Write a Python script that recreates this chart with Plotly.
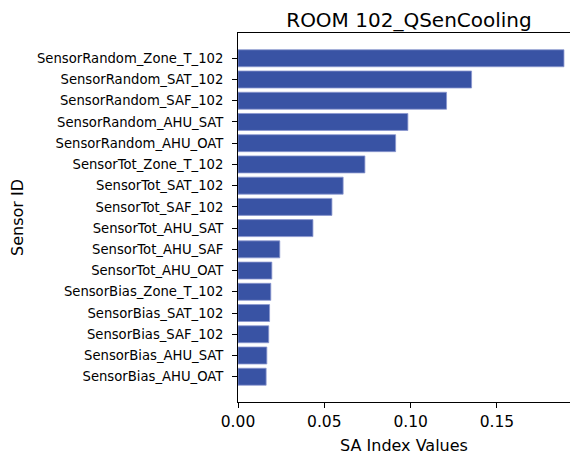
import plotly.graph_objects as go

sensors = [
    "SensorRandom_Zone_T_102", "SensorRandom_SAT_102", "SensorRandom_SAF_102",
    "SensorRandom_AHU_SAT", "SensorRandom_AHU_OAT", "SensorTot_Zone_T_102",
    "SensorTot_SAT_102", "SensorTot_SAF_102", "SensorTot_AHU_SAT",
    "SensorTot_AHU_SAF", "SensorTot_AHU_OAT", "SensorBias_Zone_T_102",
    "SensorBias_SAT_102", "SensorBias_SAF_102", "SensorBias_AHU_SAT",
    "SensorBias_AHU_OAT",
]
sa_values = [
    0.1888, 0.1353, 0.1208, 0.0984, 0.0913, 0.0735, 0.0609, 0.0544,
    0.0434, 0.0242, 0.0196, 0.0190, 0.0183, 0.0178, 0.0167, 0.0163,
]
x_ticks = [0.0, 0.05, 0.10, 0.15]
x_tick_labels = ["0.00", "0.05", "0.10", "0.15"]

FONT = "DejaVu Sans"

fig = go.Figure(
    go.Bar(
        x=sa_values,
        y=sensors,
        orientation="h",
        marker=dict(color="#3953a4", line=dict(color="#8a97cf", width=0.8)),
    )
)

fig.update_layout(
    width=570,
    height=455,
    margin=dict(l=238, r=0, t=33, b=53),
    paper_bgcolor="white",
    plot_bgcolor="white",
    bargap=0.2,
    showlegend=False,
    font=dict(family=FONT, color="black"),
    title=dict(
        text="ROOM 102_QSenCooling",
        font=dict(family=FONT, size=20, color="black"),
        xref="container", x=409 / 570, xanchor="center",
        yref="container", y=1 - 27 / 455, yanchor="bottom",
        pad=dict(b=0),
    ),
)

fig.update_xaxes(
    range=[0, 0.1923],
    tickvals=x_ticks,
    ticktext=x_tick_labels,
    ticks="outside", ticklen=5, tickwidth=1, tickcolor="black",
    tickfont=dict(family=FONT, size=15.5, color="black"),
    showline=True, linecolor="black", linewidth=1, mirror=True,
    showgrid=False, zeroline=False,
    title=dict(text="SA Index Values", font=dict(family=FONT, size=16, color="black"), standoff=10),
)

fig.update_yaxes(
    type="category",
    range=[16.19, -1.19],
    ticks="outside", ticklen=5, tickwidth=1, tickcolor="black",
    tickfont=dict(family=FONT, size=13.2, color="black"),
    ticklabelstandoff=6,
    showline=True, linecolor="black", linewidth=1,
    showgrid=False, zeroline=False,
    title=dict(text="Sensor ID", font=dict(family=FONT, size=16, color="black"), standoff=9),
)

fig.write_html("out.html")
